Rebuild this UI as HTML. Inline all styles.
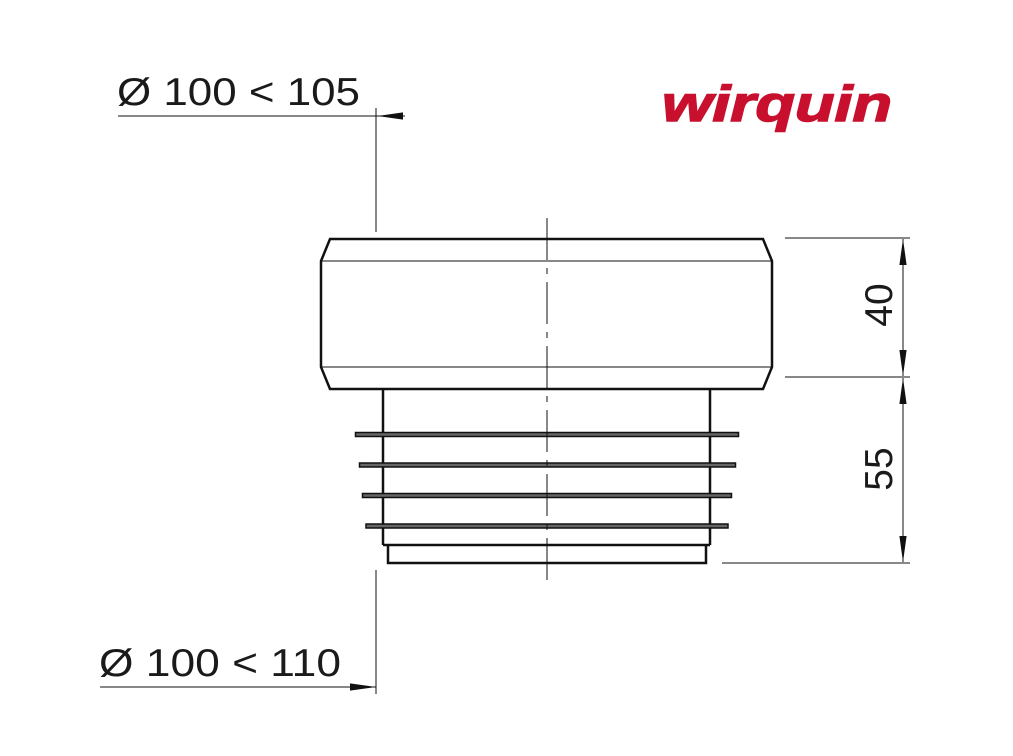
<!DOCTYPE html>
<html><head><style>
html,body{margin:0;padding:0;background:#fff;width:1013px;height:756px;overflow:hidden}
</style></head><body>
<svg width="1013" height="756" viewBox="0 0 1013 756" xmlns="http://www.w3.org/2000/svg">
<defs>
<marker id="a" viewBox="0 0 10 10" preserveAspectRatio="none" refX="10" refY="5" markerWidth="26" markerHeight="9" markerUnits="userSpaceOnUse" orient="auto"><path d="M0,1 L10,5 L0,9 Z" fill="#111"/></marker>
</defs>
<g font-family="Liberation Sans, sans-serif" font-size="39" fill="#1a1a1a">
<text x="117" y="105" textLength="243" lengthAdjust="spacingAndGlyphs">Ø 100 &lt; 105</text>
<text x="99" y="676" textLength="242" lengthAdjust="spacingAndGlyphs">Ø 100 &lt; 110</text>
<text transform="translate(892,305) rotate(-90)" text-anchor="middle">40</text>
<text transform="translate(892,469) rotate(-90)" text-anchor="middle">55</text>
</g>
<text x="662" y="121" font-family="Liberation Sans, sans-serif" font-size="50" font-weight="bold" font-style="italic" fill="#c8102e" stroke="#c8102e" stroke-width="1.5" textLength="230" lengthAdjust="spacingAndGlyphs">wirquin</text>
<g stroke="#111" fill="none">
<line x1="118" y1="116" x2="405" y2="116" stroke-width="1"/>
<line x1="405" y1="116" x2="377" y2="116" stroke-width="1" marker-end="url(#a)"/>
<line x1="376" y1="108" x2="376" y2="232" stroke-width="1"/>
<line x1="100" y1="687" x2="376" y2="687" stroke-width="1" marker-end="url(#a)"/>
<line x1="376" y1="570" x2="376" y2="694" stroke-width="1"/>
<line x1="785" y1="238" x2="910" y2="238" stroke-width="1"/>
<line x1="785" y1="377" x2="910" y2="377" stroke-width="1"/>
<line x1="722" y1="563" x2="910" y2="563" stroke-width="1"/>
<line x1="903" y1="300" x2="903" y2="239" stroke-width="1" marker-end="url(#a)"/>
<line x1="903" y1="300" x2="903" y2="376" stroke-width="1" marker-end="url(#a)"/>
<line x1="903" y1="470" x2="903" y2="378" stroke-width="1" marker-end="url(#a)"/>
<line x1="903" y1="470" x2="903" y2="562" stroke-width="1" marker-end="url(#a)"/>
<path d="M330,239 L763,239 L772,261 L772,367 L763,389 L330,389 L321,367 L321,261 Z" stroke-width="2.5"/>
<line x1="322" y1="261" x2="771" y2="261" stroke-width="1"/>
<line x1="322" y1="367" x2="771" y2="367" stroke-width="1"/>
<line x1="383" y1="389" x2="383" y2="545" stroke-width="2.5"/>
<line x1="710" y1="389" x2="710" y2="545" stroke-width="2.5"/>
<line x1="383" y1="545" x2="710" y2="545" stroke-width="2.5"/>
<path d="M388,545 L388,563 L706,563 L706,545" stroke-width="2.5"/>
<rect x="355.5" y="432.5" width="383" height="4" fill="#666" stroke-width="1.5"/>
<rect x="359.5" y="463" width="376" height="4" fill="#666" stroke-width="1.5"/>
<rect x="362.5" y="493.5" width="369" height="4" fill="#666" stroke-width="1.5"/>
<rect x="366" y="524" width="362" height="4" fill="#666" stroke-width="1.5"/>
<line x1="547" y1="218" x2="547" y2="580" stroke-width="1" stroke-dasharray="42,8,6,8"/>
</g>
</svg>
</body></html>
